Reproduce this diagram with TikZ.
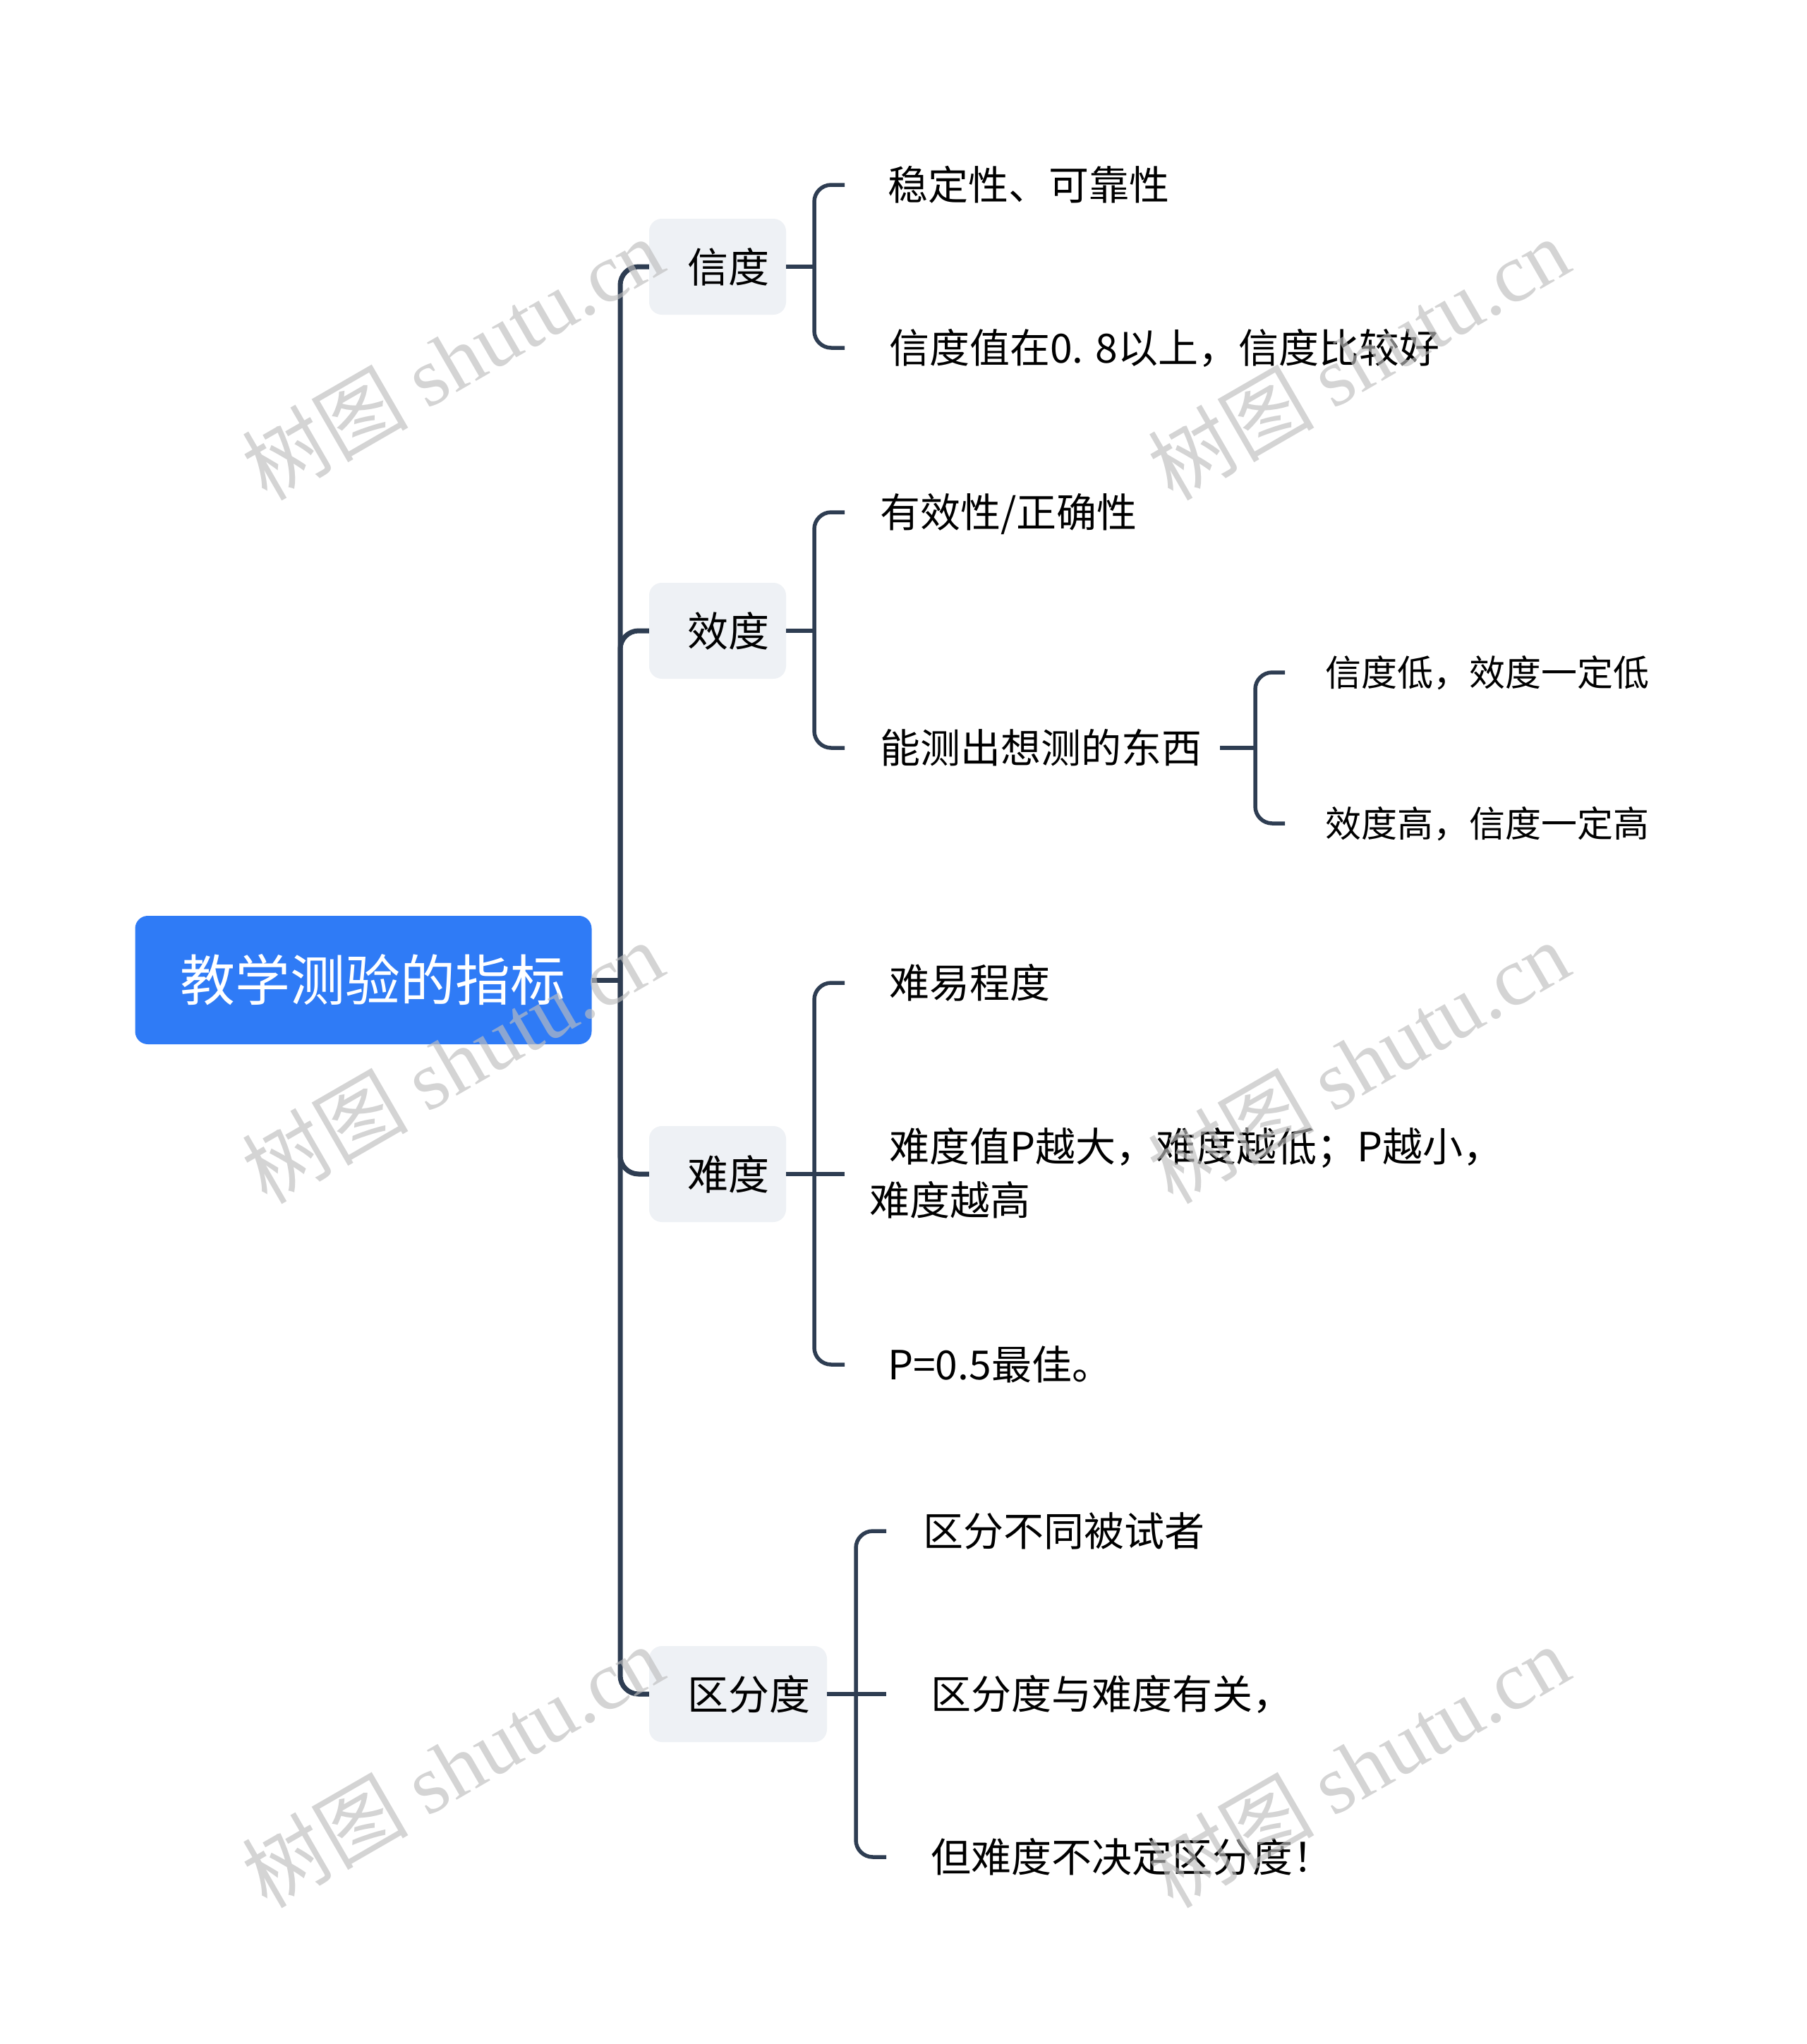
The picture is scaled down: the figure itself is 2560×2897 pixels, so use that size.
\documentclass[tikz,border=0pt]{standalone}
\usepackage{fontspec}
\setmainfont{Noto Sans CJK SC}
\newfontfamily\wmlatin{Liberation Serif}
\newfontfamily\cjk{Noto Sans CJK SC}
\usetikzlibrary{calc}
\definecolor{linec}{HTML}{2E3D52}
\definecolor{rootc}{HTML}{2F7BF6}
\definecolor{boxc}{HTML}{EEF1F5}
\definecolor{wmc}{HTML}{BEBEBE}
\begin{document}
\begin{tikzpicture}[x=1pt,y=-1pt,
  trunk/.style={draw=linec,line width=7pt,rounded corners=26pt},
  br/.style={draw=linec,line width=5.5pt,rounded corners=24pt},
  rootbox/.style={fill=rootc,rounded corners=18pt,minimum width=647pt,minimum height=182pt,text=white,font=\fontsize{78}{90}\selectfont,inner sep=0pt},
  catbox/.style={fill=boxc,rounded corners=18pt,minimum height=136pt,inner xsep=24pt,inner ysep=0pt,font=\fontsize{58}{70}\selectfont},
  leaf/.style={anchor=west,inner sep=0pt,font=\fontsize{57}{76}\selectfont,text height=47pt,text depth=4pt},
  leafs/.style={anchor=west,inner sep=0pt,font=\fontsize{51}{60}\selectfont,text height=42pt,text depth=3.6pt},
  wm/.style={text=wmc,opacity=0.65,rotate=30,font=\fontsize{118}{130}\selectfont,inner sep=0pt}
]
\useasboundingbox[fill=white] (0,0) rectangle (2560,2897);

% root and categories
\node[rootbox] (root) at (515,1389) {\hspace*{26pt}教学测验的指标};
\node[catbox] (c1) at (1017,378) {\hspace*{30pt}信度};
\node[catbox] (c2) at (1017,894) {\hspace*{30pt}效度};
\node[catbox] (c3) at (1017,1664) {\hspace*{30pt}难度};
\node[catbox] (c4) at (1046,2401) {\hspace*{30pt}区分度};

\coordinate (j) at (879,1389);
\draw[trunk] (root.east) -- (j);
\foreach \c in {c1,c2,c3,c4} { \draw[trunk] (j) |- (\c.west); }

% 信度
\node[leaf] (l11) at (1258,262) {稳定性、可靠性};
\node[leaf] (l12) at (1260,493) {信度值在0. 8以上，信度比较好};
\coordinate (b1) at (1154,378);
\coordinate (e11) at (1197,262);
\coordinate (e12) at (1197,493);
\draw[br] (c1.east) -- (b1);
\draw[br] (b1) |- (e11);
\draw[br] (b1) |- (e12);

% 效度
\node[leaf] (l21) at (1247,726) {有效性/正确性};
\node[leaf] (l22) at (1247,1060) {能测出想测的东西};
\coordinate (b2) at (1154,894);
\coordinate (e21) at (1197,726);
\coordinate (e22) at (1197,1060);
\draw[br] (c2.east) -- (b2);
\draw[br] (b2) |- (e21);
\draw[br] (b2) |- (e22);

\node[leafs] (l221) at (1878,953) {信度低，效度一定低};
\node[leafs] (l222) at (1878,1167) {效度高，信度一定高};
\coordinate (b22) at (1779,1060);
\coordinate (e221) at (1821,953);
\coordinate (e222) at (1821,1167);
\draw[br] ($(l22.east)+(26,0)$) -- (b22);
\draw[br] (b22) |- (e221);
\draw[br] (b22) |- (e222);

% 难度
\node[leaf] (l31) at (1260,1393) {难易程度};
\node[anchor=west,inner sep=0pt,align=left,font=\fontsize{57}{76}\selectfont] (l32) at (1232,1663)
  {\hspace*{28pt}难度值P越大，难度越低；P越小，\\难度越高};
\node[leaf] (l33) at (1258,1934) {P=0.5最佳。};
\coordinate (b3) at (1154,1664);
\coordinate (e31) at (1197,1393);
\coordinate (e32) at (1197,1664);
\coordinate (e33) at (1197,1934);
\draw[br] (c3.east) -- (b3);
\draw[br] (b3) |- (e31);
\draw[br] (b3) -- (e32);
\draw[br] (b3) |- (e33);

% 区分度
\node[leaf] (l41) at (1308,2170) {区分不同被试者};
\node[leaf] (l42) at (1319,2401) {区分度与难度有关，};
\node[leaf] (l43) at (1319,2632) {但难度不决定区分度！};
\coordinate (b4) at (1213,2401);
\coordinate (e41) at (1256,2170);
\coordinate (e42) at (1256,2401);
\coordinate (e43) at (1256,2632);
\draw[br] (c4.east) -- (e42);
\draw[br] (b4) |- (e41);
\draw[br] (b4) |- (e43);

% watermarks
\foreach \wx/\wy [count=\i] in {641/508,1925/508,641/1505,1925/1505,641/2503,1925/2503} {
  \node[wm] (wm\i) at (\wx,\wy) {\cjk 树图 \wmlatin shutu.cn};
}
\end{tikzpicture}
\end{document}
